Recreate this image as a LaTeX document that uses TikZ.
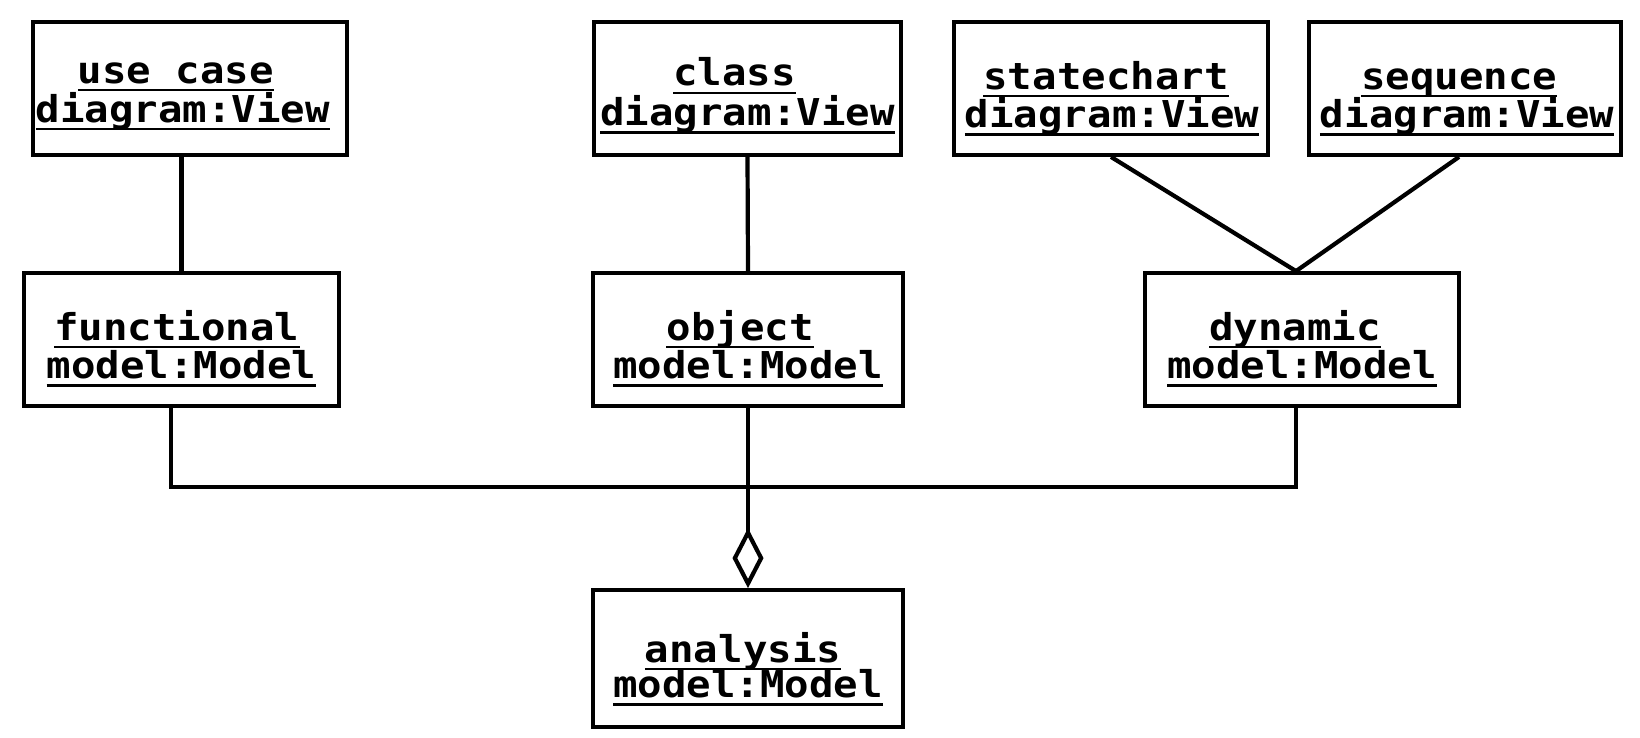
\documentclass[tikz,border=0pt]{standalone}
\usepackage{fontspec}
\newfontfamily\umlfont[FakeStretch=1.1]{DejaVu Sans Mono}
\usetikzlibrary{arrows.meta}
\newcommand\ulx[1]{\leavevmode\setbox0\hbox{#1}\rlap{\rule[-8pt]{\wd0}{2.3pt}}\box0}
% name, x, y, width, height, line1, line2, shift1, shift2
\newcommand\umlobj[9]{%
  \node[umlbox, minimum width=#4pt, minimum height=#5pt] (#1) at (#2,#3) {};
  \node[umltext] (#1-a) at ([#8]#1.center) {\ulx{#6}};
  \node[umltext] (#1-b) at ([#9]#1.center) {\ulx{#7}};
}
\begin{document}
\begin{tikzpicture}[x=1pt,y=-1pt,
  umlbox/.style={draw=black, line width=4.3pt, rectangle, inner sep=0pt, fill=white},
  umltext/.style={anchor=base, inner sep=0pt, font=\umlfont\bfseries\fontsize{37}{40}\selectfont},
  conn/.style={draw=black, line width=4.2pt}]
\useasboundingbox[fill=white] (0,0) rectangle (1640,737);

\umlobj{uc}{190}{88.5}{313.5}{132.5}{use case}{diagram:View}{xshift=-14pt,yshift=5.2pt}{xshift=-7pt,yshift=-33.5pt}
\umlobj{cls}{747.5}{88.5}{306.5}{132.5}{class}{diagram:View}{xshift=-13pt,yshift=2.7pt}{yshift=-37pt}
\umlobj{sc}{1111}{88.5}{313.5}{132.5}{statechart}{diagram:View}{xshift=-5pt,yshift=-0.5pt}{xshift=1pt,yshift=-39pt}
\umlobj{seq}{1465}{88.5}{311.5}{132.5}{sequence}{diagram:View}{xshift=-6pt,yshift=-0.5pt}{xshift=2pt,yshift=-39pt}

\umlobj{func}{181.5}{339.5}{314.5}{132.5}{functional}{model:Model}{xshift=-4.5pt,yshift=-0.5pt}{yshift=-39pt}
\umlobj{obj}{748}{339.5}{309.5}{132.5}{object}{model:Model}{xshift=-8pt,yshift=-0.5pt}{yshift=-39pt}
\umlobj{dyn}{1302}{339.5}{313.5}{132.5}{dynamic}{model:Model}{xshift=-7pt,yshift=-0.5pt}{yshift=-39pt}

\umlobj{ana}{748}{658.5}{309.5}{136.5}{analysis}{model:Model}{xshift=-5pt,yshift=-3.5pt}{yshift=-39pt}

\coordinate (bus) at (0,487);

\draw[conn] (func.north) -- (func.north |- uc.south);
\draw[conn] (cls.south) -- (obj.north);
\draw[conn] (sc.south) -- ([xshift=-6pt]dyn.north);
\draw[conn] ([xshift=-6pt]seq.south) -- ([xshift=-6pt]dyn.north);
\draw[conn] ([xshift=-10.5pt]func.south) -- ([xshift=-10.5pt]func.south |- bus)
  -- ([xshift=-6pt]dyn.south |- bus) -- ([xshift=-6pt]dyn.south);
\draw[conn, -{Diamond[open, length=60pt, width=31pt]}] (obj.south) -- (ana.north);
\end{tikzpicture}
\end{document}
